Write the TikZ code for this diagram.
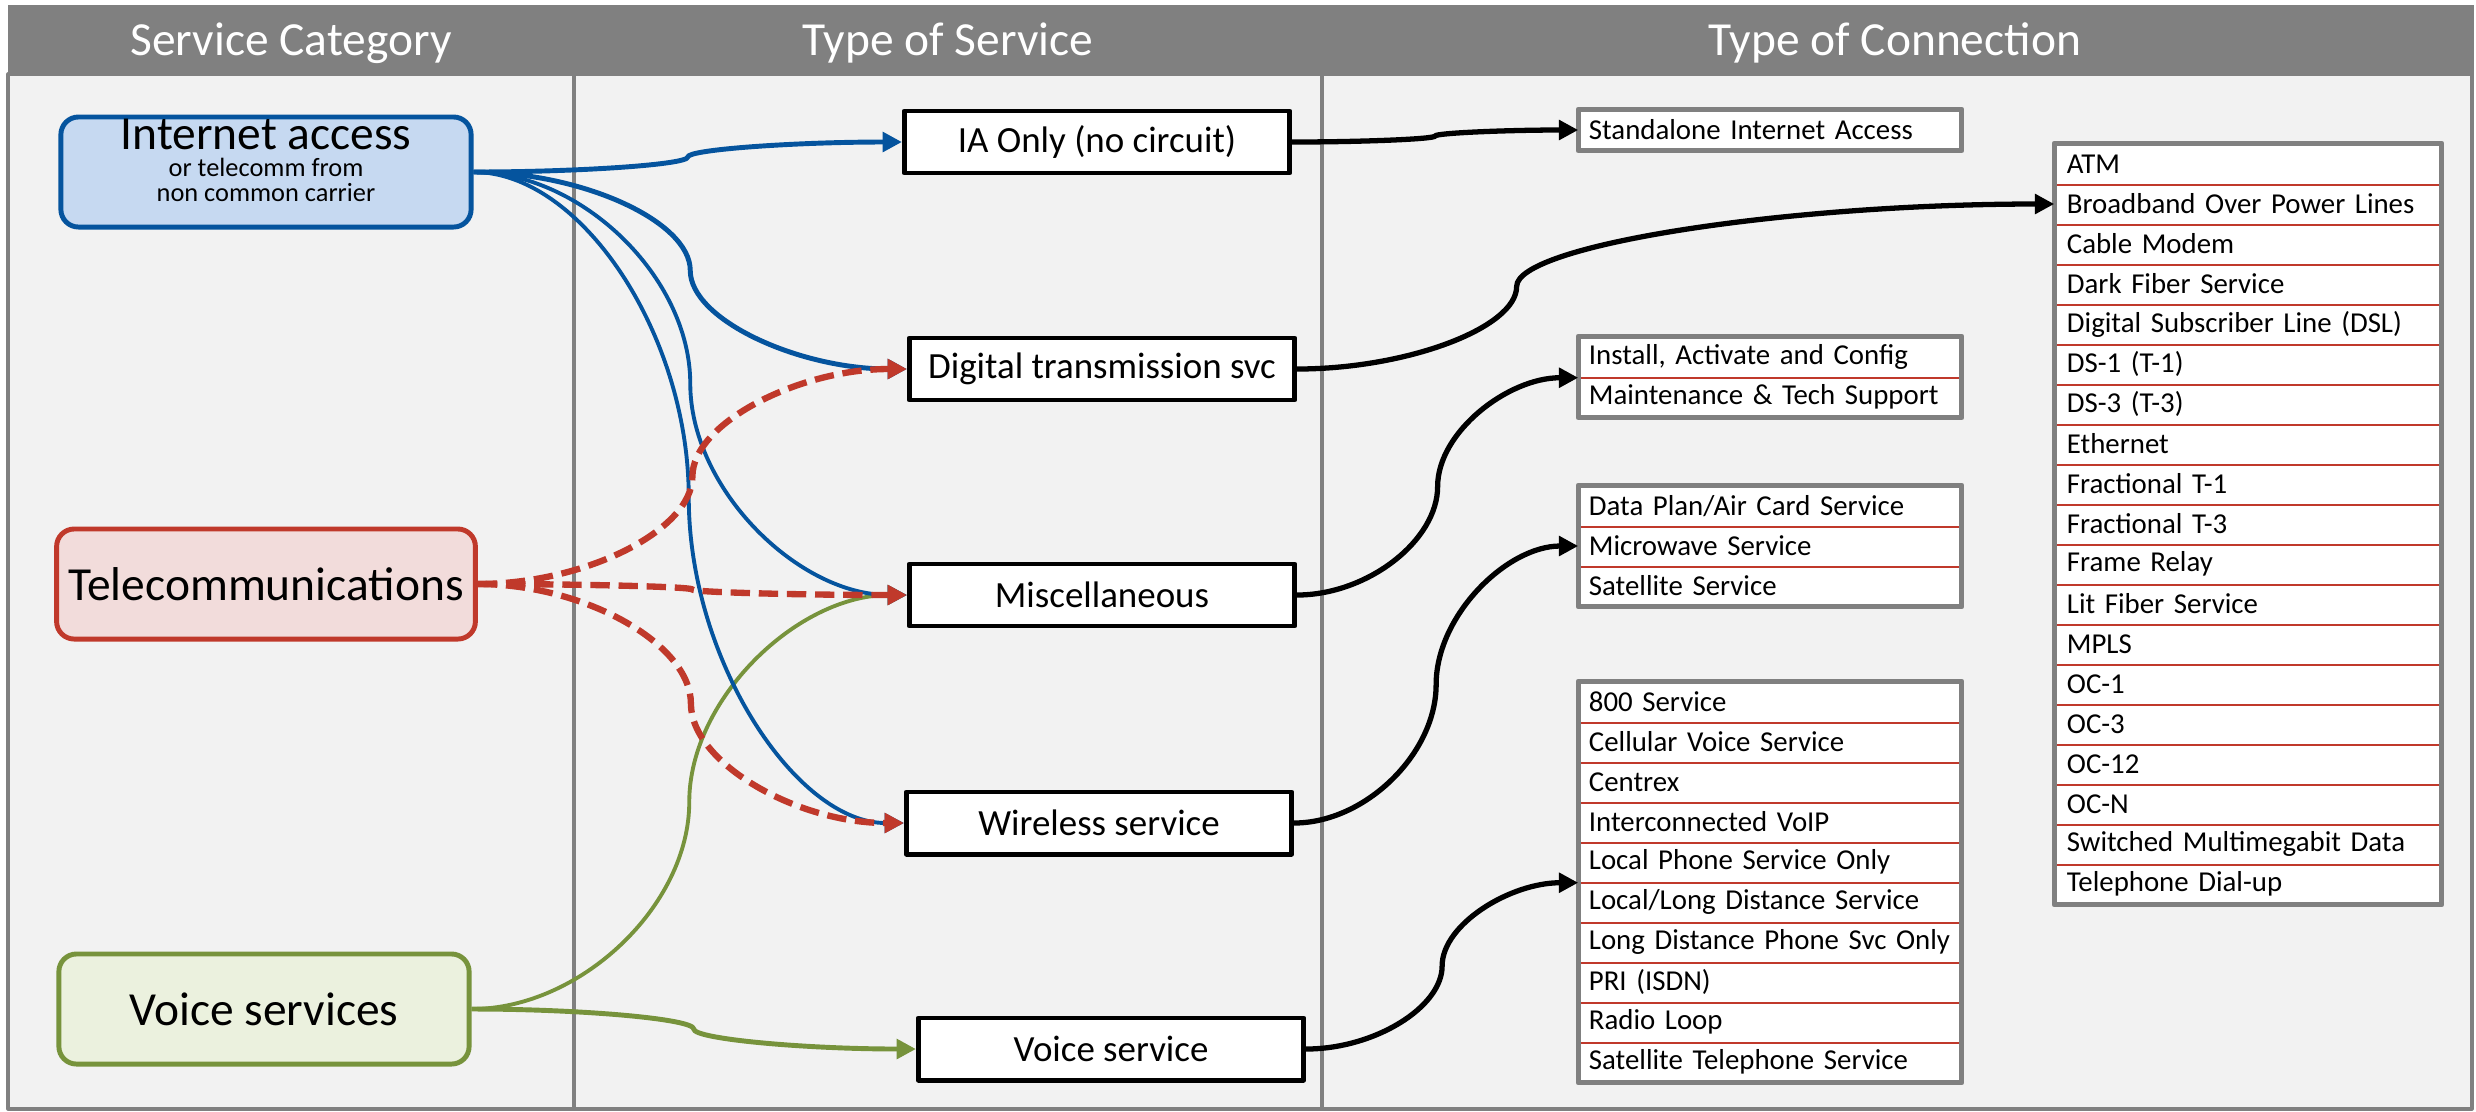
\documentclass[tikz,border=0pt]{standalone}
\usepackage{fontspec}
\setmainfont{Carlito}
\usetikzlibrary{arrows.meta,calc,positioning}
\definecolor{hdrgray}{HTML}{808080}
\definecolor{bodygray}{HTML}{F2F2F2}
\definecolor{iblue}{HTML}{05549E}
\definecolor{ibluefill}{HTML}{C6D9F1}
\definecolor{tred}{HTML}{C0392B}
\definecolor{tredfill}{HTML}{F2DCDB}
\definecolor{vgreen}{HTML}{77933C}
\definecolor{vgreenfill}{HTML}{EBF1DE}
\tikzset{
  hdrtext/.style={text=white, font=\fontsize{13.5}{16}\selectfont, anchor=base},
  bigtext/.style={font=\fontsize{13.5}{16}\selectfont},
  subtext/.style={font=\fontsize{7.5}{8}\selectfont, anchor=base},
  catbox/.style={draw=#1, line width=1.4pt, rounded corners=5pt, minimum width=4.1cm, minimum height=1.1cm},
  svcbox/.style={draw, fill=white, line width=1.4pt, minimum width=3.85cm, minimum height=0.62cm, font=\fontsize{10.5}{12}\selectfont},
  listrow/.style={fill=white, minimum width=3.82cm, minimum height=0.4cm, inner sep=0pt, text width=3.62cm, align=left, font=\fontsize{8.2}{9}\selectfont},
  sepline/.style={tred, line width=0.6pt},
  listframe/.style={draw=hdrgray, line width=1.5pt},
  sconn/.style={to path={let \p1=(\tikztostart), \p2=(\tikztotarget), \p3=($(\p1)!#1!(\p2)$) in
    .. controls ($(\p1)!.5!(\x3,\y1)$) and (\x3,{.75*(\y1)+.25*(\y2)}) .. (\x3,{.5*(\y1)+.5*(\y2)})
    .. controls (\x3,{.25*(\y1)+.75*(\y2)}) and ($(\x3,\y2)!.5!(\p2)$) .. (\tikztotarget)}},
  sconn/.default=0.5,
  thickconn/.style={line width=1.4pt, ->},
  thinconn/.style={line width=1.1pt, ->},
  dashconn/.style={line width=1.8pt, dash pattern=on 5.5pt off 2.5pt, ->}
}
\begin{document}
\begin{tikzpicture}[x=0.01cm, y=-0.01cm, line join=round, >={Triangle[length=5.5pt,width=5.5pt]}]
\useasboundingbox (0,0) rectangle (2476,1111);
\fill[bodygray] (8,74) rectangle (2472,1109);
\fill[hdrgray] (8,5) rectangle (2474,74);
\draw[hdrgray, line width=0.9pt] (8,74) rectangle (2472,1109);
\draw[hdrgray, line width=0.9pt] (574,74) -- (574,1109) (1322,74) -- (1322,1109);
\node[hdrtext] (hcat) at (291,55) {Service Category};
\node[hdrtext] (hsvc) at (948,55) {Type of Service};
\node[hdrtext] (hcon) at (1895,55) {Type of Connection};

% service categories
\node[catbox=iblue, fill=ibluefill] (inet) at (266,172) {};
\node[bigtext, anchor=base] (inetname) at ($(inet.north)+(0,35)$) {Internet access};
\node[subtext] (inetsub1) at ($(inet.north)+(0,62)$) {or telecomm from};
\node[subtext] (inetsub2) at ($(inet.north)+(0,87)$) {non common carrier};
\node[catbox=tred, fill=tredfill, bigtext] (tele) at (266,584) {Telecommunications};
\node[catbox=vgreen, fill=vgreenfill, bigtext] (voice) at (264,1009) {Voice services};

% types of service
\node[svcbox] (iaonly) at (1097,142) {IA Only (no circuit)};
\node[svcbox] (digital) at (1102,369) {Digital transmission svc};
\node[svcbox] (misc) at (1102,595) {Miscellaneous};
\node[svcbox] (wireless) at (1099,823) {Wireless service};
\node[svcbox] (voicesvc) at (1111,1049) {Voice service};

% types of connection
\foreach \itm [count=\i] in {Standalone Internet Access}
  \node[listrow] (sa-\i) at (1770,{110+(\i-.5)*40}) {\mbox{\itm}};
\draw[listframe] (sa-1.north west) rectangle (sa-1.south east);

\foreach \itm [count=\i] in {{Install, Activate and Config},Maintenance \& Tech Support}
  \node[listrow] (ins-\i) at (1770,{337+(\i-.5)*40}) {\mbox{\itm}};
\draw[sepline] (ins-1.south west) -- (ins-1.south east);
\draw[listframe] (ins-1.north west) rectangle (ins-2.south east);

\foreach \itm [count=\i] in {Data Plan/Air Card Service,Microwave Service,Satellite Service}
  \node[listrow] (dp-\i) at (1770,{486+(\i-.5)*40}) {\mbox{\itm}};
\foreach \i in {1,2}\draw[sepline] (dp-\i.south west) -- (dp-\i.south east);
\draw[listframe] (dp-1.north west) rectangle (dp-3.south east);

\foreach \itm [count=\i] in {800 Service,Cellular Voice Service,Centrex,Interconnected VoIP,Local Phone Service Only,Local/Long Distance Service,Long Distance Phone Svc Only,PRI (ISDN),Radio Loop,Satellite Telephone Service}
  \node[listrow] (vo-\i) at (1770,{682+(\i-.5)*40}) {\mbox{\itm}};
\foreach \i in {1,...,9}\draw[sepline] (vo-\i.south west) -- (vo-\i.south east);
\draw[listframe] (vo-1.north west) rectangle (vo-10.south east);

\foreach \itm [count=\i] in {ATM,Broadband Over Power Lines,Cable Modem,Dark Fiber Service,Digital Subscriber Line (DSL),DS-1 (T-1),DS-3 (T-3),Ethernet,Fractional T-1,Fractional T-3,Frame Relay,Lit Fiber Service,MPLS,OC-1,OC-3,OC-12,OC-N,Switched Multimegabit Data,Telephone Dial-up}
  \node[listrow, minimum width=3.86cm] (atm-\i) at (2248,{144+(\i-.5)*40}) {\mbox{\itm}};
\foreach \i in {1,...,18}\draw[sepline] (atm-\i.south west) -- (atm-\i.south east);
\draw[listframe] (atm-1.north west) rectangle (atm-19.south east);

% category -> service
\draw[vgreen, thinconn] (voice.east) to[sconn] (misc.west);
\draw[vgreen, thickconn] (voice.east) to[sconn] (voicesvc.west);
\draw[iblue, thickconn] (inet.east) to[sconn] (iaonly.west);
\draw[iblue, thickconn] (inet.east) to[sconn] (digital.west);
\draw[iblue, thinconn] (inet.east) to[sconn] (misc.west);
\draw[iblue, thinconn] (inet.east) to[sconn] (wireless.west);
\foreach \d in {digital,misc,wireless}
  \draw[tred, dashconn] (tele.east) to[sconn] (\d.west);

% service -> connection
\draw[line width=1.5pt, ->] (iaonly.east) to[sconn] (sa-1.west);
\draw[line width=1.5pt, ->] (digital.east) to[sconn=.29] (atm-2.west);
\draw[line width=1.5pt, ->] (misc.east) to[sconn] (ins-1.south west);
\draw[line width=1.5pt, ->] (wireless.east) to[sconn] (dp-2.west);
\draw[line width=1.5pt, ->] (voicesvc.east) to[sconn] (vo-5.south west);
\end{tikzpicture}
\end{document}
